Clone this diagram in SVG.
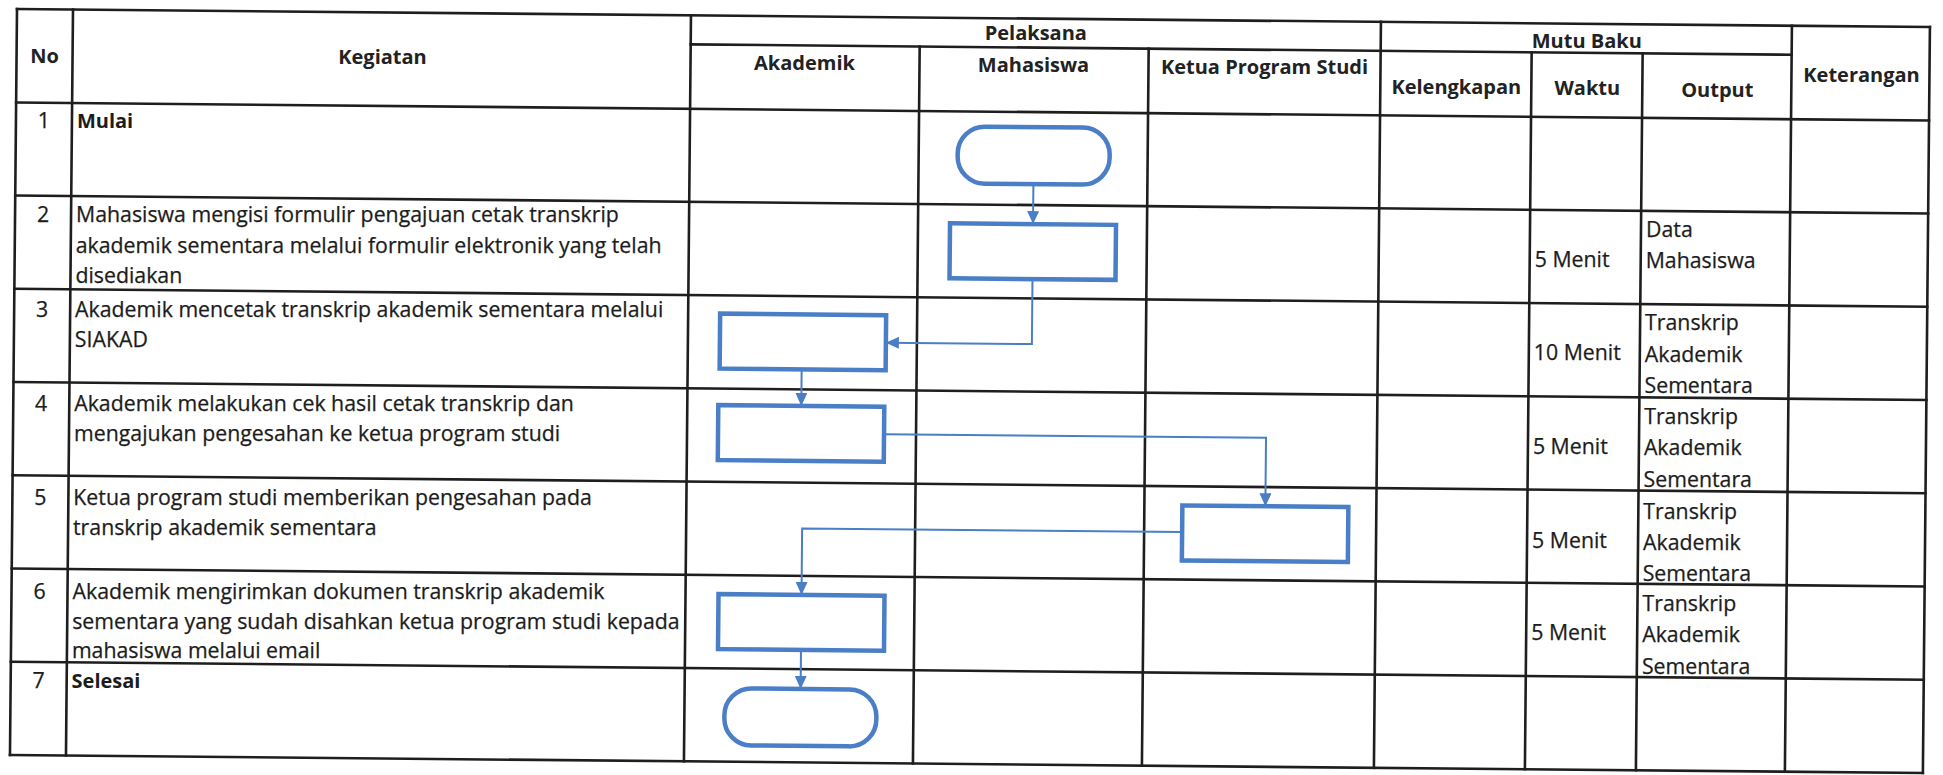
<svg xmlns="http://www.w3.org/2000/svg" width="1943" height="775" viewBox="0 0 1943 775">
<defs>
<style>
.grid line{stroke:#1e1e1e;stroke-width:2.6;stroke-linecap:square}
.h{font-family:'Open Sans','Noto Sans','Liberation Sans',sans-serif;font-size:20px;font-weight:700;fill:#222;text-anchor:middle}
.t{font-family:'Open Sans','Noto Sans','Liberation Sans',sans-serif;font-size:21.3px;fill:#1c1c1c;stroke:#1c1c1c;stroke-width:0.25}
.b{font-weight:700;font-size:20px;stroke-width:0}
.n{text-anchor:middle}
.node{fill:#fff;stroke:#4A7EC7;stroke-width:4.5}
.conn{fill:none;stroke:#4A7EC7;stroke-width:2}
</style>
<marker id="arr" markerUnits="userSpaceOnUse" markerWidth="14" markerHeight="14" refX="13" refY="6" orient="auto">
<path d="M0,0 L13,6 L0,12 z" fill="#4A7EC7"/>
</marker>
</defs>
<rect width="1943" height="775" fill="#fff"/>
<g transform="rotate(0.54 17 9)">
<g id="table" class="grid">
<line x1="17" y1="9" x2="1930" y2="9"/>
<line x1="691" y1="38" x2="1792" y2="38"/>
<line x1="17" y1="102.5" x2="1930" y2="102.5"/>
<line x1="17" y1="195.5" x2="1930" y2="195.5"/>
<line x1="17" y1="288.75" x2="1930" y2="288.75"/>
<line x1="17" y1="382" x2="1930" y2="382"/>
<line x1="17" y1="475.25" x2="1930" y2="475.25"/>
<line x1="17" y1="568.5" x2="1930" y2="568.5"/>
<line x1="17" y1="661.75" x2="1930" y2="661.75"/>
<line x1="17" y1="755" x2="1930" y2="755"/>
<line x1="17" y1="9" x2="17" y2="755"/>
<line x1="73" y1="9" x2="73" y2="755"/>
<line x1="691" y1="9" x2="691" y2="755"/>
<line x1="920" y1="38" x2="920" y2="755"/>
<line x1="1149" y1="38" x2="1149" y2="755"/>
<line x1="1381" y1="9" x2="1381" y2="755"/>
<line x1="1532" y1="38" x2="1532" y2="755"/>
<line x1="1643" y1="38" x2="1643" y2="755"/>
<line x1="1792" y1="9" x2="1792" y2="755"/>
<line x1="1930" y1="9" x2="1930" y2="755"/>
</g>
<g id="connectors">
<path class="conn" d="M1035,174.5 V214.5" marker-end="url(#arr)"/>
<path class="conn" d="M1035,269.5 V334.5 H889" marker-end="url(#arr)"/>
<path class="conn" d="M805,362 V398.5" marker-end="url(#arr)"/>
<path class="conn" d="M888,426 H1270 V494.5" marker-end="url(#arr)"/>
<path class="conn" d="M1187,521 H807 V587.5" marker-end="url(#arr)"/>
<path class="conn" d="M807,642.5 V681.5" marker-end="url(#arr)"/>
</g>
<g id="start"><rect class="node" x="959" y="117.5" width="152" height="57" rx="27"/></g>
<g id="step2"><rect class="node" x="952" y="214.5" width="166" height="55"/></g>
<g id="step3"><rect class="node" x="723" y="307" width="166" height="55"/></g>
<g id="step4"><rect class="node" x="722" y="398.5" width="166" height="55"/></g>
<g id="step5"><rect class="node" x="1187" y="494.5" width="166" height="55"/></g>
<g id="step6"><rect class="node" x="724" y="587.5" width="166" height="55"/></g>
<g id="end"><rect class="node" x="731" y="681.5" width="152" height="57" rx="27"/></g>
</g>
<g id="header">
<text class="h" x="44.5" y="63.3">No</text>
<text class="h" x="382.5" y="64">Kegiatan</text>
<text class="h" x="1035.8" y="39.6">Pelaksana</text>
<text class="h" x="804.5" y="70.4">Akademik</text>
<text class="h" x="1033.5" y="72.1">Mahasiswa</text>
<text class="h" x="1264.5" y="73.8">Ketua Program Studi</text>
<text class="h" x="1586.8" y="47.8">Mutu Baku</text>
<text class="h" x="1456.3" y="93.6">Kelengkapan</text>
<text class="h" x="1587.3" y="94.8">Waktu</text>
<text class="h" x="1717.3" y="97">Output</text>
<text class="h" x="1861.5" y="82.4">Keterangan</text>
</g>
<g id="rows">
<text class="t n" x="43.9" y="127.7">1</text>
<text class="t b" x="76.9" y="127.7">Mulai</text>
<text class="t n" x="43" y="222.2">2</text>
<text class="t" x="76" y="222.2">Mahasiswa mengisi formulir pengajuan cetak transkrip</text>
<text class="t" x="75.7" y="252.7">akademik sementara melalui formulir elektronik yang telah</text>
<text class="t" x="75.4" y="283.2">disediakan</text>
<text class="t n" x="42.1" y="316.7">3</text>
<text class="t" x="75.1" y="316.7">Akademik mencetak transkrip akademik sementara melalui</text>
<text class="t" x="74.8" y="347.2">SIAKAD</text>
<text class="t n" x="41.2" y="410.7">4</text>
<text class="t" x="74.2" y="410.7">Akademik melakukan cek hasil cetak transkrip dan</text>
<text class="t" x="74" y="440.7">mengajukan pengesahan ke ketua program studi</text>
<text class="t n" x="40.3" y="504.9">5</text>
<text class="t" x="73.3" y="504.9">Ketua program studi memberikan pengesahan pada</text>
<text class="t" x="73" y="534.9">transkrip akademik sementara</text>
<text class="t n" x="39.5" y="598.9">6</text>
<text class="t" x="72.5" y="598.9">Akademik mengirimkan dokumen transkrip akademik</text>
<text class="t" x="72.2" y="628.6">sementara yang sudah disahkan ketua program studi kepada</text>
<text class="t" x="71.9" y="658.3">mahasiswa melalui email</text>
<text class="t n" x="38.6" y="688.2">7</text>
<text class="t b" x="71.6" y="688.2">Selesai</text>
<text class="t" x="1534.7" y="266.7">5 Menit</text>
<text class="t" x="1533.8" y="360.2">10 Menit</text>
<text class="t" x="1532.9" y="453.7">5 Menit</text>
<text class="t" x="1532.1" y="547.7">5 Menit</text>
<text class="t" x="1531.2" y="640.3">5 Menit</text>
<text class="t" x="1646" y="236.8">Data</text>
<text class="t" x="1645.7" y="268.3">Mahasiswa</text>
<text class="t" x="1645.1" y="330.3">Transkrip</text>
<text class="t" x="1644.8" y="361.8">Akademik</text>
<text class="t" x="1644.5" y="393.3">Sementara</text>
<text class="t" x="1644.2" y="423.8">Transkrip</text>
<text class="t" x="1643.9" y="455.3">Akademik</text>
<text class="t" x="1643.6" y="486.8">Sementara</text>
<text class="t" x="1643.3" y="518.8">Transkrip</text>
<text class="t" x="1643" y="549.8">Akademik</text>
<text class="t" x="1642.7" y="580.8">Sementara</text>
<text class="t" x="1642.5" y="610.8">Transkrip</text>
<text class="t" x="1642.2" y="642.3">Akademik</text>
<text class="t" x="1641.9" y="673.8">Sementara</text>
</g>
</svg>
